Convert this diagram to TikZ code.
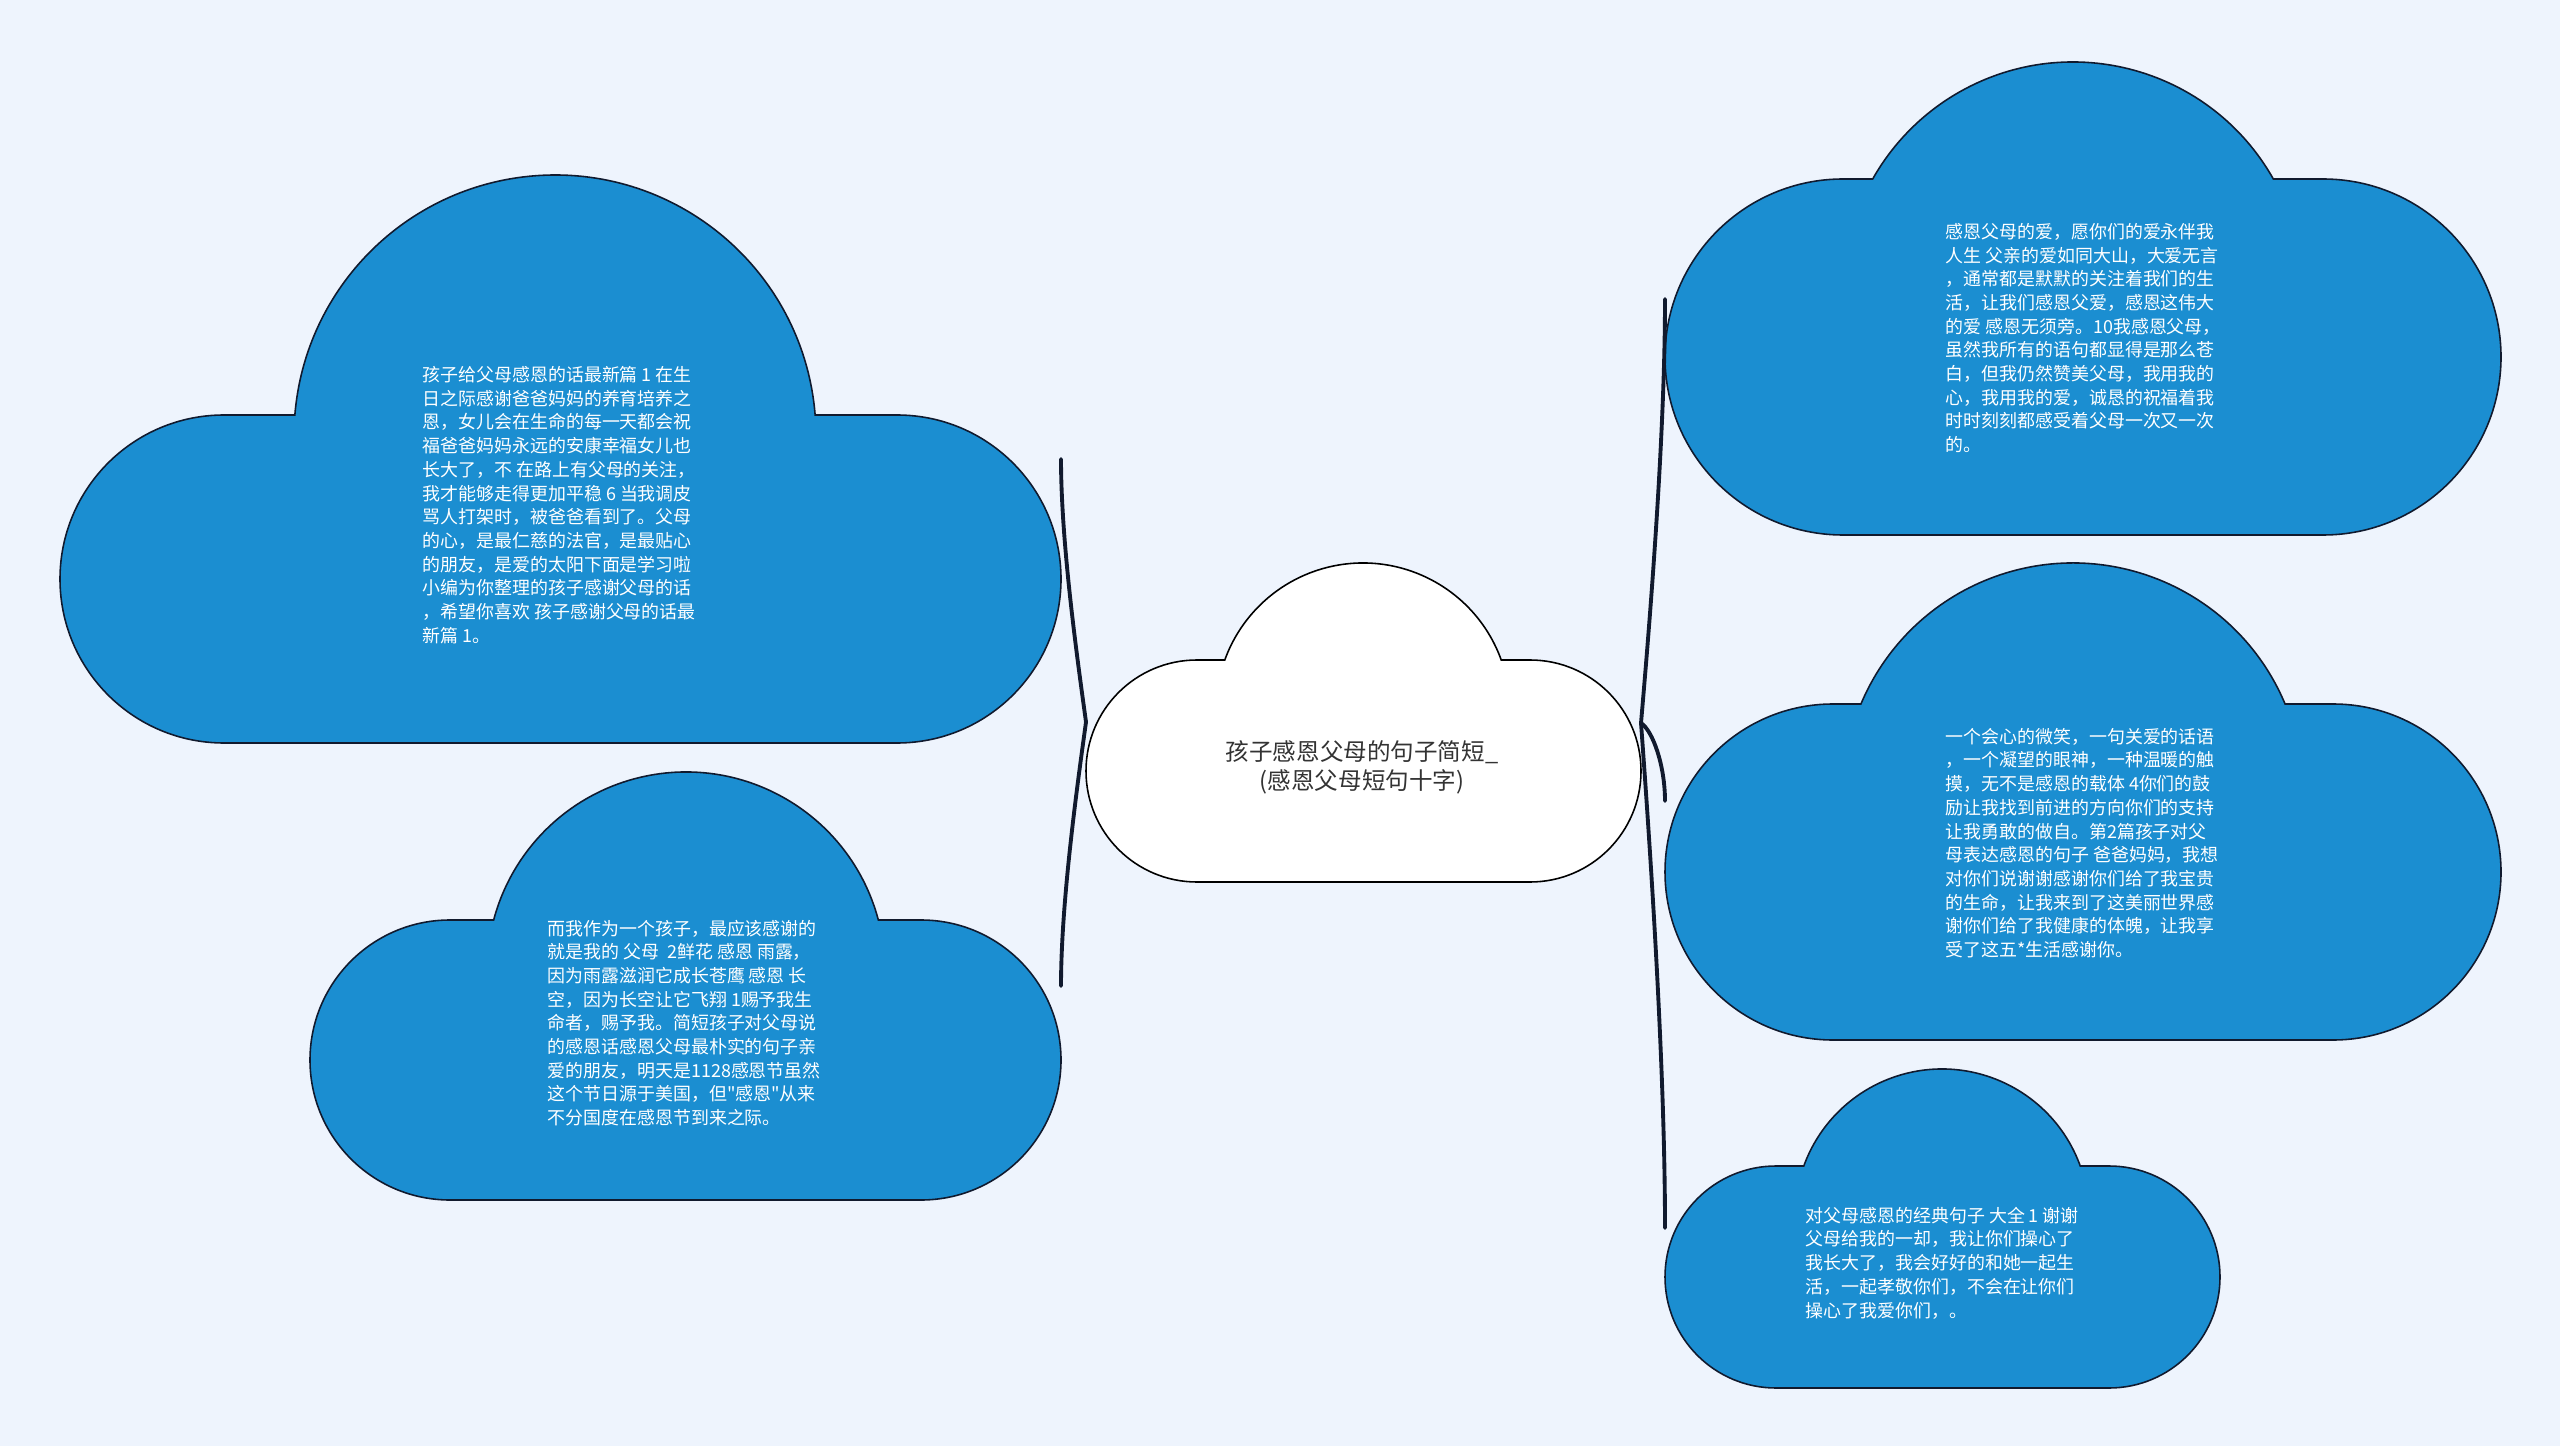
\documentclass[tikz,border=0pt]{standalone}
\usepackage{fontspec}
\newfontfamily\cjk{Noto Sans CJK SC}

\definecolor{paper}{HTML}{EEF4FD}
\definecolor{cloudfill}{HTML}{1B8ED1}
\definecolor{inkline}{HTML}{111A2E}

\tikzset{
  bluecloud/.style={fill=cloudfill,draw=inkline,line width=0.45pt},
  rootcloud/.style={fill=white,draw=black,line width=0.45pt},
  branch/.style={draw=inkline,line width=1.1pt,line cap=round},
  leaftext/.style={text=white,font=\cjk\fontsize{5.1}{6.74}\selectfont,align=left,inner sep=0pt,anchor=west},
  roottext/.style={text=black!80,font=\cjk\fontsize{6.7}{8.25}\selectfont,align=center,inner sep=0pt}
}

% cloud: left, right, bottom, lobe radius, bump centre x, bump top, bump radius, style
\newcommand{\cloudoutline}[8]{%
  \pgfmathsetmacro{\lobetop}{#3-2*#4}
  \pgfmathsetmacro{\bumpang}{asin((\lobetop-#6-#7)/#7)}
  \path[#8] (#1+#4,#3) -- (#2-#4,#3)
    arc[start angle=90,end angle=-90,radius=#4]
    -- ({#5+#7*cos(\bumpang)},\lobetop)
    arc[start angle=\bumpang,end angle={-180-\bumpang},radius=#7]
    -- (#1+#4,\lobetop)
    arc[start angle=-90,end angle=-270,radius=#4] -- cycle;
}

\begin{document}
\begin{tikzpicture}[x=0.01cm,y=-0.01cm]
  \fill[paper] (0,0) rectangle (2560,1446);
  \useasboundingbox (0,0) rectangle (2560,1446);

  % clouds
  \cloudoutline{60}{1061}{743}{164}{555}{175}{261}{bluecloud}
  \cloudoutline{310}{1061}{1200}{140}{686}{772}{199}{bluecloud}
  \cloudoutline{1086}{1641}{882}{111}{1363}{563}{147}{rootcloud}
  \cloudoutline{1665}{2501}{535}{178}{2073}{62}{230}{bluecloud}
  \cloudoutline{1665}{2501}{1040}{168}{2073}{563}{230}{bluecloud}
  \cloudoutline{1665}{2220}{1388}{111}{1942}{1069}{147}{bluecloud}

  % texts
  \node[roottext] (root) at (1362,767) {孩子感恩父母的句子简短\_\\(感恩父母短句十字)};

  \node[leaftext] (t1) at (422,505) {孩子给父母感恩的话最新篇 1 在生\\
日之际感谢爸爸妈妈的养育培养之\\
恩，女儿会在生命的每一天都会祝\\
福爸爸妈妈永远的安康幸福女儿也\\
长大了，不 在路上有父母的关注，\\
我才能够走得更加平稳 6 当我调皮\\
骂人打架时，被爸爸看到了。父母\\
的心，是最仁慈的法官，是最贴心\\
的朋友，是爱的太阳下面是学习啦\\
小编为你整理的孩子感谢父母的话\\
，希望你喜欢 孩子感谢父母的话最\\
新篇 1。};

  \node[leaftext] (t2) at (547,1023) {而我作为一个孩子，最应该感谢的\\
就是我的 父母\ \ 2鲜花 感恩 雨露，\\
因为雨露滋润它成长苍鹰 感恩 长\\
空，因为长空让它飞翔 1赐予我生\\
命者，赐予我。简短孩子对父母说\\
的感恩话感恩父母最朴实的句子亲\\
爱的朋友，明天是1128感恩节虽然\\
这个节日源于美国，但"感恩"从来\\
不分国度在感恩节到来之际。};

  \node[leaftext] (t3) at (1945,338) {感恩父母的爱，愿你们的爱永伴我\\
人生 父亲的爱如同大山，大爱无言\\
，通常都是默默的关注着我们的生\\
活，让我们感恩父爱，感恩这伟大\\
的爱 感恩无须旁。10我感恩父母，\\
虽然我所有的语句都显得是那么苍\\
白，但我仍然赞美父母，我用我的\\
心，我用我的爱，诚恳的祝福着我\\
时时刻刻都感受着父母一次又一次\\
的。};

  \node[leaftext] (t4) at (1945,843) {一个会心的微笑，一句关爱的话语\\
，一个凝望的眼神，一种温暖的触\\
摸，无不是感恩的载体 4你们的鼓\\
励让我找到前进的方向你们的支持\\
让我勇敢的做自。第2篇孩子对父\\
母表达感恩的句子 爸爸妈妈，我想\\
对你们说谢谢感谢你们给了我宝贵\\
的生命，让我来到了这美丽世界感\\
谢你们给了我健康的体魄，让我享\\
受了这五*生活感谢你。};

  \node[leaftext] (t5) at (1805,1263) {对父母感恩的经典句子 大全 1 谢谢\\
父母给我的一却，我让你们操心了\\
我长大了，我会好好的和她一起生\\
活，一起孝敬你们，不会在让你们\\
操心了我爱你们，。};

  % branch ends
  \coordinate (root-w) at (1086,722);
  \coordinate (root-e) at (1641,723);
  \coordinate (c1-e) at (1061,459);
  \coordinate (c2-e) at (1061,986);
  \coordinate (c3-w) at (1665,299);
  \coordinate (c4-w) at (1665,801);
  \coordinate (c5-w) at (1665,1228);

  \draw[branch] (root-w) .. controls +(-10,-72) and +(0,81) .. (c1-e);
  \draw[branch] (root-w) .. controls +(-10,72) and +(0,-81) .. (c2-e);
  \draw[branch] (root-e) .. controls +(10,-115) and +(0,131) .. (c3-w);
  \draw[branch] (root-e) .. controls +(12,8) and +(0,-35) .. (c4-w);
  \draw[branch] (root-e) .. controls +(10,136) and +(0,-157) .. (c5-w);
\end{tikzpicture}
\end{document}
